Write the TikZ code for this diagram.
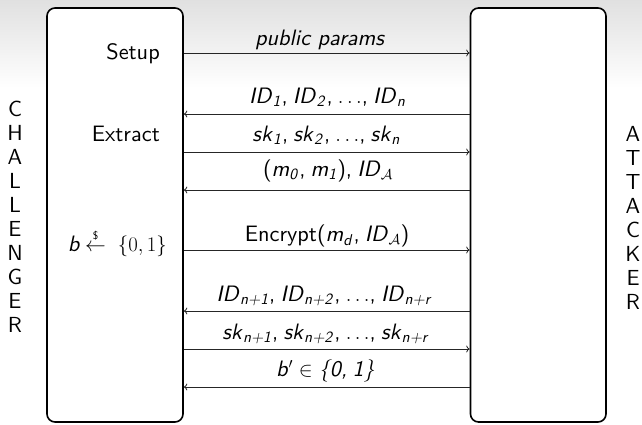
\documentclass[tikz,border=0pt]{standalone}
\usepackage{amsmath}
\usepackage{fontspec}
\setsansfont{lmsans10-regular.otf}[ItalicFont=lmsans10-oblique.otf]
\usetikzlibrary{arrows.meta}
% italic sans pieces used in the message labels
\newcommand{\iv}[1]{\textit{#1}}
\newcommand{\isub}[2]{\textit{#1}\textsubscript{\textit{#2}}\kern0.6pt}
\newcommand{\msep}{,\kern5.2pt}
\begin{document}
\begin{tikzpicture}[x=1pt,y=-1pt,
  font=\sffamily\fontsize{22.3}{24}\selectfont,
  party/.style={draw=black, line width=1.6pt, rounded corners=8pt, fill=white},
  msg/.style={draw=black!85, line width=0.8pt, -{To[length=3.5pt,width=7pt]}},
  lbl/.style={anchor=base, inner sep=0pt},
  side/.style={anchor=base east, inner sep=0pt},
  vert/.style={align=center, inner sep=0pt, font=\sffamily\fontsize{21.8}{24}\selectfont}]
\useasboundingbox (0,0) rectangle (642,424);
% slide background with a soft grey band at the top
\fill[white] (0,0) rectangle (642,424);
\shade[top color=black!12, bottom color=white] (0,0) rectangle (642,88);

% the two parties
\node[party, minimum width=136pt, minimum height=414pt] (ch) at (115,215) {};
\node[party, minimum width=135.5pt, minimum height=414pt] (at) at (538.25,215) {};

% side captions
\node[vert] (chname) at (15,217) {C\\H\\A\\L\\L\\E\\N\\G\\E\\R};
\node[vert] (atname) at (633,217.5) {A\\T\\T\\A\\C\\K\\E\\R};

% phases on the challenger side
\node[side] (setup) at (160,59) {Setup};
\node[side] (extract) at (160,141) {Extract};
\node[side] (coin) at (167,251) {\iv{b}\kern5pt$\stackrel{\mbox{\sffamily\fontsize{11}{11}\selectfont\$}}{\leftarrow}$\kern12pt$\{0,1\}$};

% messages
\draw[msg] (ch.east |- 0,53) -- (at.west |- 0,53);
\node[lbl] (m1) at (320,45) {\iv{public params}};

\draw[msg] (at.west |- 0,114) -- (ch.east |- 0,114);
\node[lbl] (m2) at (327.5,103.5) {\isub{ID}{1}\msep\isub{ID}{2}\msep$\ldots$\msep\isub{ID}{n}};

\draw[msg] (ch.east |- 0,152) -- (at.west |- 0,152);
\node[lbl] (m3) at (326.5,141.5) {\isub{sk}{1}\msep\isub{sk}{2}\msep$\ldots$\msep\isub{sk}{n}};

\draw[msg] (at.west |- 0,190) -- (ch.east |- 0,190);
\node[lbl] (m4) at (328,176.5) {(\isub{m}{0}\msep\isub{m}{1})\msep\iv{ID}$_{\mathcal{A}}$};

\draw[msg] (ch.east |- 0,250) -- (at.west |- 0,250);
\node[lbl] (m5) at (327,241.5) {Encrypt(\isub{m}{d}\msep\iv{ID}$_{\mathcal{A}}$)};

\draw[msg] (at.west |- 0,311) -- (ch.east |- 0,311);
\node[lbl] (m6) at (324.5,301.5) {\isub{ID}{n+1}\msep\isub{ID}{n+2}\msep$\ldots$\msep\isub{ID}{n+r}};

\draw[msg] (ch.east |- 0,349) -- (at.west |- 0,349);
\node[lbl] (m7) at (326,339) {\isub{sk}{n+1}\msep\isub{sk}{n+2}\msep$\ldots$\msep\isub{sk}{n+r}};

\draw[msg] (at.west |- 0,387) -- (ch.east |- 0,387);
\node[lbl] (m8) at (325.5,376.5) {\iv{b}$'$\kern6pt$\in$\kern6pt\iv{\{0\msep1\}}};
\end{tikzpicture}
\end{document}
